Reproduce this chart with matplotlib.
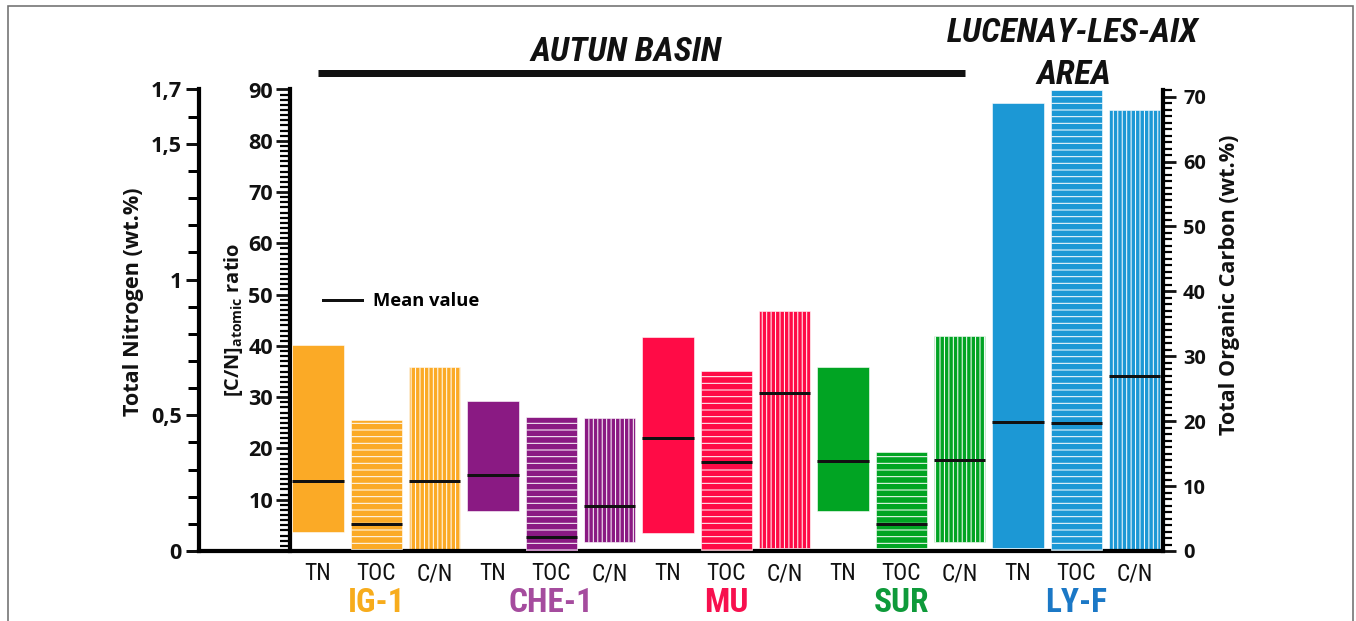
import matplotlib
matplotlib.use("Agg")
import matplotlib.pyplot as plt
from matplotlib import font_manager
from matplotlib.lines import Line2D
from matplotlib.patches import Rectangle
from matplotlib.ticker import MultipleLocator, FixedLocator
import numpy as np

# ---------------------------------------------------------------- data
groups = ["IG-1", "CHE-1", "MU", "SUR", "LY-F"]
params = ["TN", "TOC", "C/N"]
bar_colors = ["#FBAA26", "#8A1A83", "#FF0B46", "#01A423", "#1C98D5"]
label_colors = ["#F7AC1C", "#A54C9E", "#F7104E", "#0E9A3A", "#1B78C6"]

# Total nitrogen (wt.%)
tn_min = [0.071, 0.149, 0.065, 0.146, 0.010]
tn_max = [0.760, 0.553, 0.787, 0.677, 1.651]
tn_mean = [0.259, 0.279, 0.417, 0.331, 0.475]

# Total organic carbon (wt.%)
toc_min = [0.26, 0.0, 0.1, 0.4, 0.2]
toc_max = [20.2, 20.6, 27.8, 15.2, 71.0]
toc_mean = [4.17, 2.16, 13.7, 4.17, 19.7]

# [C/N] atomic ratio
cn_min = [0.33, 1.7, 0.5, 1.7, 0.2]
cn_max = [35.8, 25.9, 46.8, 41.9, 86.0]
cn_mean = [13.7, 8.77, 30.8, 17.7, 34.1]

tn_ticks = [0, 0.5, 1, 1.5, 1.7]
tn_ticklabels = ["0", "0,5", "1", "1,5", "1,7"]

# ---------------------------------------------------------------- fonts
available = {f.name for f in font_manager.fontManager.ttflist}


def pick(*names):
    for n in names:
        if n in available:
            return n
    return "DejaVu Sans"


NARROW = pick("Liberation Sans Narrow", "Roboto Condensed", "Open Sans Condensed", "Noto Sans")
SANS = pick("Open Sans", "Noto Sans", "Liberation Sans")

plt.rcParams["font.family"] = [SANS, "DejaVu Sans"]
plt.rcParams["mathtext.fontset"] = "custom"
plt.rcParams["mathtext.rm"] = SANS
plt.rcParams["hatch.color"] = "white"
plt.rcParams["hatch.linewidth"] = 0.9

# ---------------------------------------------------------------- figure
DPI = 80
W, H = 1356, 621
PX = 72.0 / DPI  # points per pixel
fig = plt.figure(figsize=(W / DPI, H / DPI), dpi=DPI, facecolor="white")

x_left, x_right = 199, 1163
y_bottom, y_top = 551, 89.5
ax = fig.add_axes([x_left / W, 1 - y_bottom / H,
                   (x_right - x_left) / W, (y_bottom - y_top) / H])
ax_tn = ax.twinx()
ax_toc = ax.twinx()

pitch = 58.33
x0_center = 318
ax.set_xlim((x_left - x0_center) / pitch, (x_right - x0_center) / pitch)
ax.set_ylim(0, 90)
ax_tn.set_ylim(0, 1.7)
ax_toc.set_ylim(0, 71.1)

width = 0.88
spine_w = 4.2 * PX
ink = "#111111"

for g in range(len(groups)):
    i = 3 * g
    col = bar_colors[g]
    # TN: solid bar
    ax_tn.bar(i, tn_max[g] - tn_min[g], bottom=tn_min[g], width=width,
              color=col, edgecolor="white", linewidth=0.5)
    ax_tn.hlines(tn_mean[g], i - width / 2, i + width / 2, colors=ink,
                 linewidth=3 * PX, zorder=3)
    # TOC: horizontally striped bar
    ax_toc.bar(i + 1, toc_max[g] - toc_min[g], bottom=toc_min[g], width=width,
               color=col, edgecolor="white", linewidth=0.5, hatch="--")
    ax_toc.hlines(toc_mean[g], i + 1 - width / 2, i + 1 + width / 2,
                  colors=ink, linewidth=3 * PX, zorder=3)
    # C/N: vertically striped bar
    ax.bar(i + 2, cn_max[g] - cn_min[g], bottom=cn_min[g], width=width,
           color=col, edgecolor="white", linewidth=0.5, hatch="|||")
    ax.hlines(cn_mean[g], i + 2 - width / 2, i + 2 + width / 2,
              colors=ink, linewidth=3 * PX, zorder=3)

# ---------------------------------------------------------------- spines & ticks
# C/N ratio axis (inner left)
for s in ["top", "right"]:
    ax.spines[s].set_visible(False)
ax.spines["left"].set_position(("data", (290 - x0_center) / pitch))
ax.spines["left"].set_linewidth(spine_w)
ax.spines["bottom"].set_linewidth(spine_w)
ax.yaxis.set_major_locator(MultipleLocator(10))
ax.yaxis.set_minor_locator(MultipleLocator(1))
ax.set_yticks([10, 20, 30, 40, 50, 60, 70, 80, 90])
ax.tick_params(axis="y", which="major", length=14 * PX, width=2.8 * PX,
               pad=3 * PX, labelsize=19.5, colors=ink)
ax.tick_params(axis="y", which="minor", length=10 * PX, width=2.2 * PX)
for lab in ax.get_yticklabels():
    lab.set_fontweight("bold")

ax.set_xticks(np.arange(15))
ax.set_xticklabels(params * len(groups))
ax.tick_params(axis="x", length=0, pad=11 * PX, labelsize=21, colors=ink)
for lab in ax.get_xticklabels():
    lab.set_fontfamily([NARROW, "DejaVu Sans"])

# Total nitrogen axis (outer left)
for s in ["top", "right", "bottom"]:
    ax_tn.spines[s].set_visible(False)
ax_tn.spines["left"].set_visible(True)
ax_tn.spines["left"].set_linewidth(spine_w)
ax_tn.yaxis.set_ticks_position("left")
ax_tn.yaxis.set_label_position("left")
ax_tn.yaxis.set_major_locator(FixedLocator(tn_ticks))
ax_tn.set_yticklabels(tn_ticklabels)
ax_tn.yaxis.set_minor_locator(MultipleLocator(0.1))
ax_tn.tick_params(axis="y", which="major", length=13 * PX, width=3 * PX,
                  pad=4 * PX, labelsize=19.5, colors=ink)
ax_tn.tick_params(axis="y", which="minor", length=11 * PX, width=3 * PX)
for lab in ax_tn.get_yticklabels():
    lab.set_fontweight("bold")

# Total organic carbon axis (right)
for s in ["top", "left", "bottom"]:
    ax_toc.spines[s].set_visible(False)
ax_toc.spines["right"].set_linewidth(spine_w)
ax_toc.yaxis.set_major_locator(MultipleLocator(10))
ax_toc.yaxis.set_minor_locator(MultipleLocator(1))
ax_toc.tick_params(axis="y", which="major", length=13 * PX, width=2.8 * PX,
                   pad=7 * PX, labelsize=18, colors=ink)
ax_toc.tick_params(axis="y", which="minor", length=9 * PX, width=2.2 * PX)
for lab in ax_toc.get_yticklabels():
    lab.set_fontweight("bold")


def ax_xy(px, py):
    """Pixel position -> axes fraction of the main axes."""
    return (px - x_left) / (x_right - x_left), (y_bottom - py) / (y_bottom - y_top)


# axis titles
tx, ty = ax_xy(134, 302)
ax.text(tx, ty, "Total Nitrogen (wt.%)", transform=ax.transAxes, rotation=90,
        ha="center", va="center", rotation_mode="anchor", fontsize=19.5,
        fontweight="bold", color=ink)
tx, ty = ax_xy(234, 320)
ax.text(tx, ty, r"[C/N]$_{\mathregular{atomic}}$ ratio", transform=ax.transAxes,
        rotation=90, ha="center", va="center", rotation_mode="anchor",
        fontsize=18, fontweight="bold", color=ink)
tx, ty = ax_xy(1229, 285)
ax.text(tx, ty, "Total Organic Carbon (wt.%)", transform=ax.transAxes,
        rotation=90, ha="center", va="center", rotation_mode="anchor",
        fontsize=19.5, fontweight="bold", color=ink)

# sample labels under each group of three bars
xt = ax.get_xaxis_transform()
for g, name in enumerate(groups):
    ax.text(3 * g + 1, ax_xy(0, 603)[1], name, transform=xt, ha="center",
            va="center", fontsize=30, fontweight="bold",
            family=[NARROW, "DejaVu Sans"], color=label_colors[g], clip_on=False)

# area headers
title_kw = dict(transform=xt, ha="center", va="center", fontsize=31,
                fontweight="heavy", style="italic",
                family=[NARROW, "DejaVu Sans"], color=ink, clip_on=False)
ax.text((626 - x0_center) / pitch, ax_xy(0, 52)[1], "AUTUN BASIN", **title_kw)
ax.plot([0, (965 - x0_center) / pitch], [ax_xy(0, 73)[1]] * 2, transform=xt,
        color=ink, linewidth=7 * PX, solid_capstyle="butt", clip_on=False)
ax.text((1073 - x0_center) / pitch, ax_xy(0, 33)[1], "LUCENAY-LES-AIX", **title_kw)
ax.text((1074 - x0_center) / pitch, ax_xy(0, 75)[1], "AREA", **title_kw)

# legend for the mean markers
leg_fs = 16.5
lx, ly = ax_xy(323, 301)
leg = ax.legend(handles=[Line2D([0], [0], color=ink, linewidth=3 * PX)],
                labels=["Mean value"], loc="center left", bbox_to_anchor=(lx, ly),
                frameon=False, borderpad=0, borderaxespad=0,
                handlelength=39 / (leg_fs / PX), handletextpad=11 / (leg_fs / PX),
                prop={"size": leg_fs, "weight": "bold"})

# thin grey frame around the panel
fig.patches.append(Rectangle((8 / W, -0.05), (1353 - 8) / W, 1 - 6 / H + 0.05,
                             transform=fig.transFigure, fill=False,
                             edgecolor="#707070", linewidth=1.6 * PX))

fig.savefig("out.png", dpi=DPI, facecolor="white")
